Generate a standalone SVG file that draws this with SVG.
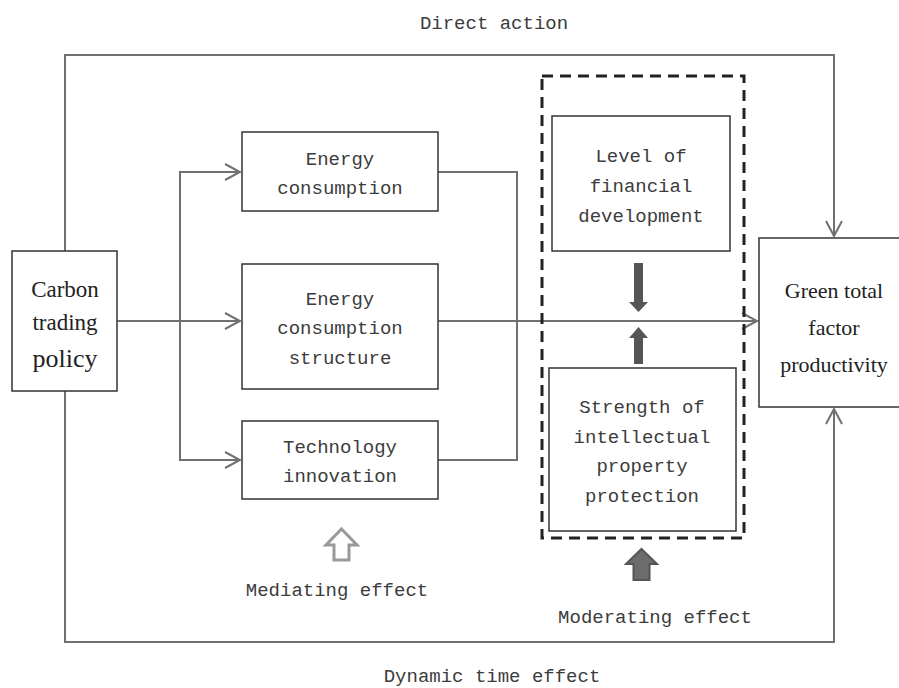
<svg xmlns="http://www.w3.org/2000/svg" width="899" height="688" viewBox="0 0 899 688">
<style>
.box{fill:#fff;stroke:#333;stroke-width:1.5}
.mono{font-family:"Liberation Mono","DejaVu Sans Mono",monospace;font-size:19px;fill:#3c3c3c;text-anchor:middle}
.serif{font-family:"Liberation Serif","Times New Roman",serif;fill:#222;text-anchor:middle}
.conn{fill:none;stroke:#707070;stroke-width:2}
</style>
<defs>
<marker id="open" markerWidth="18" markerHeight="18" refX="16" refY="9" orient="auto" markerUnits="userSpaceOnUse">
<path d="M1,1 L16,9 L1,17" fill="none" stroke="#707070" stroke-width="2"/>
</marker>
</defs>
<g id="connectors">
<polyline class="conn" points="65,251 65,55 834,55 834,236" marker-end="url(#open)"/>
<polyline class="conn" points="65,391 65,642 834,642 834,409" marker-end="url(#open)"/>
<line class="conn" x1="117" y1="321" x2="240" y2="321" marker-end="url(#open)"/>
<polyline class="conn" points="240,172 180,172 180,460 240,460"/>
<line class="conn" x1="180" y1="172" x2="240" y2="172" marker-end="url(#open)"/>
<line class="conn" x1="180" y1="460" x2="240" y2="460" marker-end="url(#open)"/>
<polyline class="conn" points="438,172 517,172 517,460 438,460"/>
<line class="conn" x1="438" y1="321" x2="757" y2="321" marker-end="url(#open)"/>
</g>
<g id="moderator-group">
<rect x="542" y="76" width="202" height="462" fill="none" stroke="#222" stroke-width="3" stroke-dasharray="11 7"/>
</g>
<g id="carbon">
<rect class="box" x="12" y="251" width="105" height="140"/>
<text class="serif" x="65" y="297" font-size="23">Carbon</text>
<text class="serif" x="65" y="330" font-size="23">trading</text>
<text class="serif" x="65" y="367" font-size="26">policy</text>
</g>
<g id="energy">
<rect class="box" x="242" y="132" width="196" height="79"/>
<text class="mono" x="340" y="165">Energy</text>
<text class="mono" x="340" y="194">consumption</text>
</g>
<g id="structure">
<rect class="box" x="242" y="264" width="196" height="125"/>
<text class="mono" x="340" y="305">Energy</text>
<text class="mono" x="340" y="334">consumption</text>
<text class="mono" x="340" y="364">structure</text>
</g>
<g id="technology">
<rect class="box" x="242" y="421" width="196" height="78"/>
<text class="mono" x="340" y="453">Technology</text>
<text class="mono" x="340" y="482">innovation</text>
</g>
<g id="financial">
<rect class="box" x="552" y="116" width="178" height="135"/>
<text class="mono" x="641" y="162">Level of</text>
<text class="mono" x="641" y="192">financial</text>
<text class="mono" x="641" y="222">development</text>
</g>
<g id="ipp">
<rect class="box" x="549" y="368" width="187" height="163"/>
<text class="mono" x="642" y="413">Strength of</text>
<text class="mono" x="642" y="443">intellectual</text>
<text class="mono" x="642" y="472">property</text>
<text class="mono" x="642" y="502">protection</text>
</g>
<g id="gtfp">
<rect class="box" x="759" y="238" width="145" height="169"/>
<text class="serif" x="834" y="298" font-size="22">Green total</text>
<text class="serif" x="834" y="335" font-size="22">factor</text>
<text class="serif" x="834" y="372" font-size="22">productivity</text>
</g>
<g id="interaction-arrows">
<polygon points="634,263 643,263 643,302 648,302 638.5,312 629,302 634,302" fill="#555"/>
<polygon points="638.5,327 648,338 643,338 643,364 634,364 634,338 629,338" fill="#555"/>
</g>
<g id="mediating">
<polygon points="341.5,529 357,545 349,545 349,560 334,560 334,545 326,545" fill="#fff" stroke="#999" stroke-width="3" stroke-linejoin="miter"/>
<text class="mono" x="337" y="596">Mediating effect</text>
</g>
<g id="moderating">
<polygon points="641.5,549 657,564 649.5,564 649.5,580 633.5,580 633.5,564 626,564" fill="#6c6c6c" stroke="#555" stroke-width="2"/>
<text class="mono" x="655" y="623">Moderating effect</text>
</g>
<g id="labels">
<text class="mono" x="494" y="29">Direct action</text>
<text class="mono" x="492" y="682">Dynamic time effect</text>
</g>
</svg>
